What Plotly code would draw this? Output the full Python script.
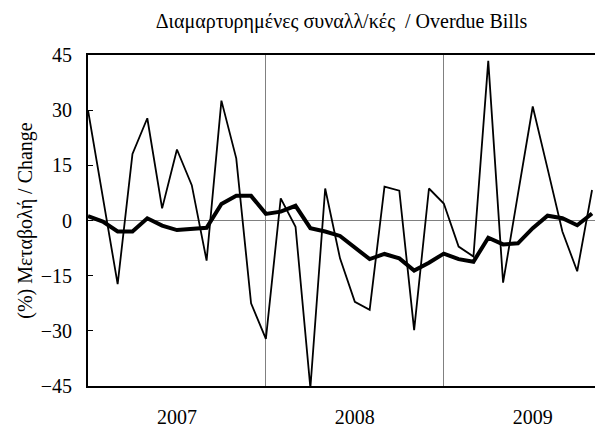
import plotly.graph_objects as go

months = [f"{y}-{m:02d}" for y in (2007, 2008, 2009) for m in range(1, 13)][:35]

monthly_change = [30.0, 6.5, -17.3, 18.1, 27.8, 3.3, 19.3, 9.6, -10.9, 32.6, 16.9, -22.5,
                  -32.2, 6.0, -1.7, -45.5, 8.7, -10.3, -22.1, -24.3, 9.2, 8.1, -29.8, 8.7,
                  4.6, -7.1, -9.8, 43.4, -16.9, 7.1, 31.0, 14.1, -3.0, -13.8, 8.3]
trend_change = [1.2, -0.3, -3.0, -3.0, 0.6, -1.4, -2.6, -2.4, -2.0, 4.5, 6.7, 6.7,
                1.8, 2.4, 4.0, -2.1, -3.0, -4.2, -7.3, -10.5, -9.1, -10.3, -13.6, -11.5,
                -9.0, -10.5, -11.2, -4.7, -6.5, -6.2, -2.1, 1.3, 0.6, -1.3, 1.9]

year_labels = ["2007", "2008", "2009"]
year_centers = [6, 18, 30]
year_bounds = [12, 24]
y_ticks = [-45, -30, -15, 0, 15, 30, 45]

x = list(range(len(months)))
font_family = "Liberation Serif, DejaVu Serif, serif"

fig = go.Figure()
fig.add_trace(go.Scatter(x=x, y=monthly_change, mode="lines", customdata=months,
                         line=dict(color="black", width=1.8), showlegend=False))
fig.add_trace(go.Scatter(x=x, y=trend_change, mode="lines", customdata=months,
                         line=dict(color="black", width=4), showlegend=False))

fig.update_layout(
    width=595, height=427,
    margin=dict(l=88, r=0, t=55, b=41, autoexpand=False),
    paper_bgcolor="white", plot_bgcolor="white",
    font=dict(family=font_family, color="black", size=20),
    title=dict(text="Διαμαρτυρημένες συναλλ/κές  / Overdue Bills",
               font=dict(family=font_family, size=20, color="black"),
               x=0.5, xref="paper", xanchor="center",
               y=1 - 21 / 427, yref="container", yanchor="middle"),
)
fig.update_xaxes(
    range=[0, 34.2], tickmode="array", tickvals=year_centers, ticktext=year_labels,
    ticks="", showgrid=False, zeroline=False, automargin=False,
    showline=True, linecolor="black", linewidth=2, mirror=True,
    tickfont=dict(size=20), ticklabelstandoff=12,
    minor=dict(tickmode="array", tickvals=year_bounds, showgrid=True,
               gridcolor="#808080", gridwidth=1, ticks=""),
)
fig.update_yaxes(
    range=[-45, 45], tickmode="array", tickvals=y_ticks, automargin=False,
    ticks="inside", ticklen=5, tickcolor="black", tickwidth=1,
    showgrid=False, zeroline=True, zerolinecolor="#808080", zerolinewidth=1,
    showline=True, linecolor="black", linewidth=2, mirror=False,
    tickfont=dict(size=20), ticklabelstandoff=10,
    title=dict(text="(%) Μεταβολή / Change", font=dict(size=20), standoff=3),
)

fig.write_html(
    "out.html",
    config={"displayModeBar": False},
    post_script="document.body.style.margin='0';document.body.style.overflow='hidden';",
)
